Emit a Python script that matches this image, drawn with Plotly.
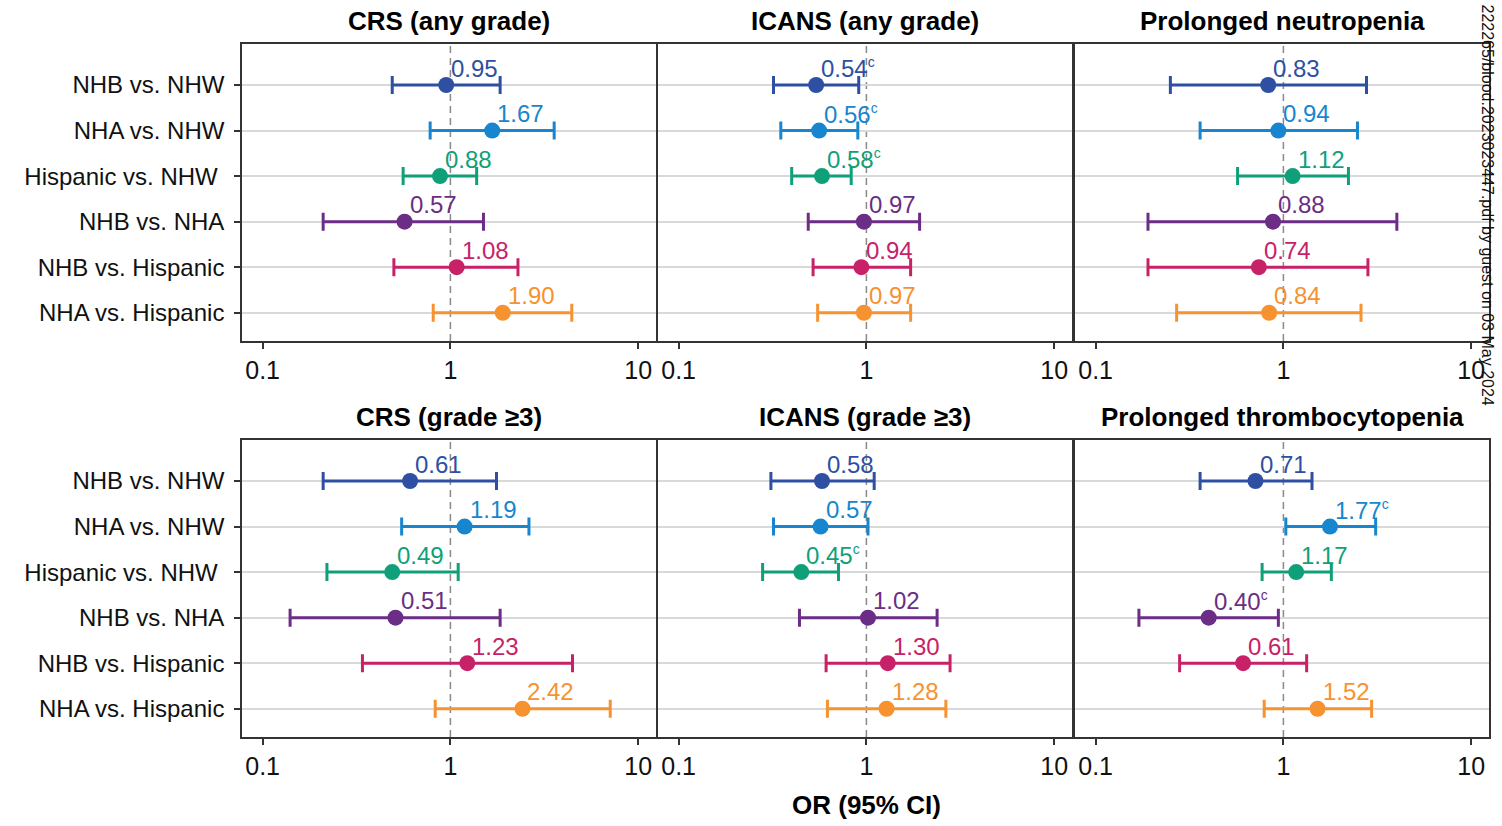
import math
import plotly.graph_objects as go

# ---- data -----------------------------------------------------------------
categories = ["NHB vs. NHW", "NHA vs. NHW", "Hispanic vs. NHW\u00a0", "NHB vs. NHA",
              "NHB vs. Hispanic", "NHA vs. Hispanic"]
row_colors = ["#2E4FA2", "#1786CE", "#0FA07A", "#6B2D85", "#C72268", "#F79230"]

panel_titles = ["CRS (any grade)", "ICANS (any grade)", "Prolonged neutropenia",
                "CRS (grade \u22653)", "ICANS (grade \u22653)", "Prolonged thrombocytopenia"]

crs_any_or = [0.95, 1.67, 0.88, 0.57, 1.08, 1.90]
crs_any_lo = [0.49, 0.78, 0.56, 0.21, 0.50, 0.81]
crs_any_hi = [1.84, 3.57, 1.38, 1.50, 2.29, 4.43]
crs_any_sig = [False, False, False, False, False, False]

icans_any_or = [0.54, 0.56, 0.58, 0.97, 0.94, 0.97]
icans_any_lo = [0.32, 0.35, 0.40, 0.49, 0.52, 0.55]
icans_any_hi = [0.91, 0.90, 0.83, 1.92, 1.72, 1.72]
icans_any_sig = [True, True, True, False, False, False]

neutro_or = [0.83, 0.94, 1.12, 0.88, 0.74, 0.84]
neutro_lo = [0.25, 0.36, 0.57, 0.19, 0.19, 0.27]
neutro_hi = [2.77, 2.48, 2.22, 4.02, 2.82, 2.59]
neutro_sig = [False, False, False, False, False, False]

crs_g3_or = [0.61, 1.19, 0.49, 0.51, 1.23, 2.42]
crs_g3_lo = [0.21, 0.55, 0.22, 0.14, 0.34, 0.83]
crs_g3_hi = [1.76, 2.62, 1.10, 1.84, 4.47, 7.10]
crs_g3_sig = [False, False, False, False, False, False]

icans_g3_or = [0.58, 0.57, 0.45, 1.02, 1.30, 1.28]
icans_g3_lo = [0.31, 0.32, 0.28, 0.44, 0.61, 0.62]
icans_g3_hi = [1.10, 1.02, 0.71, 2.38, 2.79, 2.65]
icans_g3_sig = [False, False, True, False, False, False]

thrombo_or = [0.71, 1.77, 1.17, 0.40, 0.61, 1.52]
thrombo_lo = [0.36, 1.03, 0.77, 0.17, 0.28, 0.79]
thrombo_hi = [1.42, 3.10, 1.80, 0.94, 1.33, 2.95]
thrombo_sig = [False, True, False, True, False, False]

x_ticks = [0.1, 1, 10]
x_tick_text = ["0.1", "1", "10"]

panels = [
    (crs_any_or, crs_any_lo, crs_any_hi, crs_any_sig),
    (icans_any_or, icans_any_lo, icans_any_hi, icans_any_sig),
    (neutro_or, neutro_lo, neutro_hi, neutro_sig),
    (crs_g3_or, crs_g3_lo, crs_g3_hi, crs_g3_sig),
    (icans_g3_or, icans_g3_lo, icans_g3_hi, icans_g3_sig),
    (thrombo_or, thrombo_lo, thrombo_hi, thrombo_sig),
]

# ---- layout geometry (pixels) ---------------------------------------------
W, H = 1502, 826
FONT = "Liberation Sans, Arial, Helvetica, sans-serif"
col_left = [242, 658, 1075]
panel_w = 414
row_top = [44, 440]
panel_h = 297


def fx(p):
    return p / W


def fy(p):
    return 1 - p / H


fig = go.Figure()
annotations = []
shapes = []
layout_axes = {}

for i, (ors, los, his, sig) in enumerate(panels):
    r, c = divmod(i, 3)
    n = i + 1
    xa = "x" if n == 1 else f"x{n}"
    ya = "y" if n == 1 else f"y{n}"
    xkey = "xaxis" if n == 1 else f"xaxis{n}"
    ykey = "yaxis" if n == 1 else f"yaxis{n}"

    x0, x1 = col_left[c], col_left[c] + panel_w
    y0, y1 = row_top[r], row_top[r] + panel_h

    layout_axes[xkey] = dict(
        domain=[fx(x0), fx(x1)], anchor=ya, type="log", range=[-1.11, 1.095],
        tickvals=x_ticks, ticktext=x_tick_text, ticks="outside", ticklen=6,
        tickwidth=1.5, tickcolor="#333", showline=True, mirror=True,
        linecolor="#333", linewidth=1.6, showgrid=False, zeroline=False,
        tickfont=dict(size=25, color="#111", family=FONT), ticklabelstandoff=0,
    )
    layout_axes[ykey] = dict(
        domain=[fy(y1), fy(y0)], anchor=xa, range=[5.62, -0.9],
        tickvals=list(range(len(categories))), ticktext=categories,
        showticklabels=(c == 0), ticks="outside" if c == 0 else "",
        ticklen=6, tickwidth=1.5, tickcolor="#333",
        showline=True, mirror=True, linecolor="#333", linewidth=1.6,
        showgrid=True, gridcolor="#d9d9d9", gridwidth=1.5, zeroline=False,
        tickfont=dict(size=24, color="#111", family=FONT), ticklabelstandoff=5,
    )

    # reference line at OR = 1
    shapes.append(dict(
        type="line", xref=xa, yref=f"{ya} domain", x0=1, x1=1, y0=0, y1=1,
        line=dict(color="#8a8a8a", width=1.5, dash="7px,5px"), layer="below",
    ))

    for k in range(len(categories)):
        fig.add_trace(go.Scatter(
            x=[ors[k]], y=[k], xaxis=xa, yaxis=ya, mode="markers",
            marker=dict(size=16, color=row_colors[k]),
            error_x=dict(type="data", symmetric=False,
                         array=[his[k] - ors[k]], arrayminus=[ors[k] - los[k]],
                         color=row_colors[k], thickness=3, width=9),
            showlegend=False, hoverinfo="skip",
        ))
        label = f"{ors[k]:.2f}"
        if sig[k]:
            label += "<sup><span style='font-size:14px'>c</span></sup>"
        # annotations on a log axis take log10 positions
        annotations.append(dict(
            x=math.log10(ors[k]), y=k, xref=xa, yref=ya, text=label, showarrow=False,
            xanchor="left", yanchor="middle", xshift=3, yshift=17,
            font=dict(size=24, color=row_colors[k], family=FONT),
        ))

    # panel title
    annotations.append(dict(
        x=fx((x0 + x1) / 2), y=fy(y0 - 23), xref="paper", yref="paper",
        text=f"<b>{panel_titles[i]}</b>", showarrow=False,
        xanchor="center", yanchor="middle",
        font=dict(size=26, color="#000", family=FONT),
    ))

# shared x-axis title
annotations.append(dict(
    x=fx(866), y=fy(805), xref="paper", yref="paper", text="<b>OR (95% CI)</b>",
    showarrow=False, xanchor="center", yanchor="middle",
    font=dict(size=26, color="#000", family=FONT),
))

# download stamp along the right edge
annotations.append(dict(
    x=fx(1487), y=fy(407), xref="paper", yref="paper",
    text="222265/blood.2023023447.pdf by guest on 03 May 2024",
    showarrow=False, textangle=90, xanchor="center", yanchor="bottom",
    font=dict(size=16, color="#111", family=FONT),
))

fig.update_layout(
    width=W, height=H, margin=dict(l=0, r=0, t=0, b=0),
    paper_bgcolor="white", plot_bgcolor="white",
    annotations=annotations, shapes=shapes, **layout_axes,
)

fig.write_html("out.html")
